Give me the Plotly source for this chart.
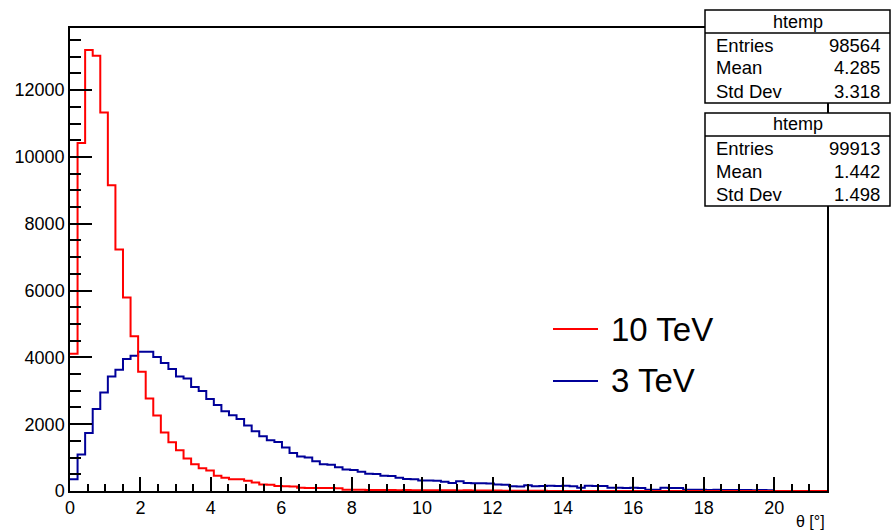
import numpy as np
import plotly.graph_objects as go

# Histogram binning (100 bins over the theta range)
N_BINS = 100
X_MIN, X_MAX = 0.0, 21.5
Y_MAX = 13860

# Bin contents, 10 TeV sample
counts_10tev = [
    4110, 10420, 13200, 13030, 11330, 9150, 7230, 5790, 4630, 3570,
    2770, 2260, 1750, 1460, 1220, 970, 800, 680, 610, 460,
    395, 355, 350, 310, 255, 195, 190, 150, 140, 135,
    95, 92, 90, 88, 92, 85, 40, 35, 38, 30,
    33, 28, 30, 26, 27, 25, 24, 22, 25, 20,
    21, 18, 19, 17, 16, 15, 14, 8, 10, 6,
    9, 5, 4, 3, 2, 0, 0, 0, 0, 0,
    0, 0, 0, 0, 0, 0, 0, 0, 0, 0,
    0, 0, 0, 0, 0, 0, 0, 0, 0, 0,
    0, 0, 0, 0, 0, 0, 0, 0, 0, 0,
]

# Bin contents, 3 TeV sample
counts_3tev = [
    354, 1094, 1733, 2452, 2952, 3431, 3631, 3950, 4050, 4165,
    4165, 4010, 3830, 3650, 3431, 3371, 3111, 2991, 2751, 2571,
    2391, 2271, 2152, 1960, 1785, 1640, 1520, 1470, 1300, 1140,
    1030, 1000, 893, 800, 785, 713, 640, 628, 575, 520,
    510, 460, 450, 396, 358, 350, 318, 312, 308, 276,
    240, 294, 236, 232, 230, 228, 195, 190, 140, 135,
    174, 140, 150, 156, 150, 155, 145, 95, 156, 150,
    152, 98, 95, 92, 96, 90, 40, 38, 95, 92,
    90, 36, 34, 38, 30, 35, 32, 28, 33, 30,
    26, 29, 25, 0, 0, 0, 0, 0, 0, 0,
]

legend_labels = ["10 TeV", "3 TeV"]
line_colors = ["#ff0000", "#000099"]

# Statistics boxes (name, entries, mean, std dev)
stat_names = ["htemp", "htemp"]
stat_entries = ["98564", "99913"]
stat_means = ["4.285", "1.442"]
stat_stds = ["3.318", "1.498"]

FONT = "Liberation Sans, Arial, Helvetica, sans-serif"

W, H = 892, 531
ML, MR, MT, MB = 70, 65, 28, 40
PW, PH = W - ML - MR, H - MT - MB


def px_x(px):
    return (px - ML) / PW


def px_y(py):
    return (H - MB - py) / PH


edges = np.linspace(X_MIN, X_MAX, N_BINS + 1)

fig = go.Figure()
for counts, color, name in [(counts_3tev, line_colors[1], legend_labels[1]),
                            (counts_10tev, line_colors[0], legend_labels[0])]:
    y = list(counts) + [counts[-1]]
    fig.add_trace(go.Scatter(
        x=edges, y=y, mode="lines", line=dict(color=color, width=2, shape="hv"),
        name=name, showlegend=False, hoverinfo="skip",
    ))

axis_common = dict(
    showline=True, linecolor="black", linewidth=1.5, mirror=True,
    ticks="inside", tickcolor="black", tickwidth=1.5,
    showgrid=False, zeroline=False,
    tickfont=dict(family=FONT, size=18, color="black"),
)

fig.update_xaxes(
    range=[X_MIN, X_MAX], tick0=0, dtick=2, ticklen=14,
    minor=dict(ticks="inside", ticklen=7, dtick=0.5, tick0=0, tickcolor="black", tickwidth=1.5),
    **axis_common,
)
fig.update_yaxes(
    range=[0, Y_MAX], tick0=0, dtick=2000, ticklen=22, tickformat="d",
    minor=dict(ticks="inside", ticklen=11, dtick=500, tick0=0, tickcolor="black", tickwidth=1.5),
    **axis_common,
)

shapes = []
annotations = []

# axis title
annotations.append(dict(
    x=px_x(827), y=px_y(521), xref="paper", yref="paper",
    xanchor="right", yanchor="middle", showarrow=False,
    text="θ [°]", font=dict(family=FONT, size=16, color="black"),
))

# legend entries
for label, color, cy in zip(legend_labels, line_colors, [329, 381]):
    shapes.append(dict(type="line", xref="paper", yref="paper",
                       x0=px_x(553), x1=px_x(598), y0=px_y(cy), y1=px_y(cy),
                       line=dict(color=color, width=2)))
    annotations.append(dict(
        x=px_x(609), y=px_y(cy), xref="paper", yref="paper",
        xanchor="left", yanchor="middle", showarrow=False,
        text=label, font=dict(family=FONT, size=33, color="black"),
    ))

# statistics boxes
box_tops = [10, 113]
for top, name, ent, mean, std in zip(box_tops, stat_names, stat_entries, stat_means, stat_stds):
    bottom = top + 93
    left, right = 705, 890
    shapes.append(dict(type="rect", xref="paper", yref="paper", layer="above",
                       x0=px_x(left), x1=px_x(right), y0=px_y(bottom), y1=px_y(top),
                       fillcolor="white", line=dict(color="black", width=1.5)))
    shapes.append(dict(type="line", xref="paper", yref="paper", layer="above",
                       x0=px_x(left), x1=px_x(right), y0=px_y(top + 23), y1=px_y(top + 23),
                       line=dict(color="black", width=1.5)))
    annotations.append(dict(
        x=px_x((left + right) / 2), y=px_y(top + 11.5), xref="paper", yref="paper",
        xanchor="center", yanchor="middle", showarrow=False,
        text=name, font=dict(family=FONT, size=18, color="black"),
    ))
    for i, (lab, val) in enumerate([("Entries", ent), ("Mean", mean), ("Std Dev", std)]):
        cy = top + 35 + i * 23
        annotations.append(dict(
            x=px_x(714), y=px_y(cy), xref="paper", yref="paper",
            xanchor="left", yanchor="middle", showarrow=False,
            text=lab, font=dict(family=FONT, size=18.5, color="black"),
        ))
        annotations.append(dict(
            x=px_x(882), y=px_y(cy), xref="paper", yref="paper",
            xanchor="right", yanchor="middle", showarrow=False,
            text=val, font=dict(family=FONT, size=18.5, color="black"),
        ))

fig.update_layout(
    width=W, height=H,
    margin=dict(l=ML, r=MR, t=MT, b=MB, pad=0),
    paper_bgcolor="white", plot_bgcolor="white",
    showlegend=False,
    shapes=shapes, annotations=annotations,
)

fig.write_html("out.html", config={"displayModeBar": False})
